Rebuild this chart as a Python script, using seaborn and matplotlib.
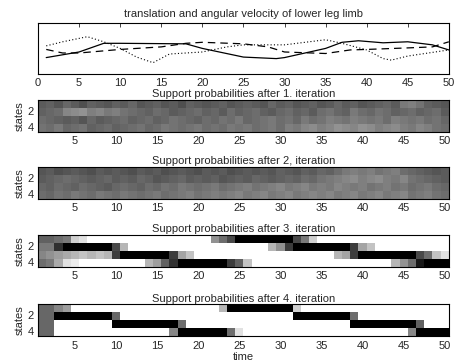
"""Segmentación de la marcha: señal del segmento inferior + probabilidades de soporte.

Panel superior: traslación y velocidad angular de la pierna (tres curvas).
Debajo: mapa de probabilidades de cada estado (4) a lo largo del tiempo
tras las iteraciones 1 a 4.
"""

import matplotlib.pyplot as plt
import numpy as np
import pandas as pd
import seaborn as sns

sns.set_theme(style="white", context="notebook")
plt.rcParams["font.family"] = ["Liberation Sans", "DejaVu Sans"]

# --- señal del segmento inferior (unidades arbitrarias) ---
solid_t = [1, 5, 8, 10, 18, 20, 25, 29, 30, 35, 37, 39, 42, 45, 48, 50]
solid_v = [0.32, 0.43, 0.60, 0.60, 0.59, 0.50, 0.33, 0.30, 0.32, 0.50,
           0.62, 0.65, 0.61, 0.63, 0.57, 0.47]
dashed_t = [1, 3, 5, 10, 15, 18, 20, 25, 28, 30, 35, 38, 40, 45, 48, 50]
dashed_v = [0.48, 0.41, 0.41, 0.48, 0.53, 0.60, 0.62, 0.59, 0.53, 0.43,
            0.40, 0.47, 0.48, 0.51, 0.53, 0.63]
dotted_t = [1, 3, 6, 8, 10, 12, 14, 16, 20, 23, 25, 30, 35, 37, 40, 42, 43, 45, 50]
dotted_v = [0.55, 0.63, 0.73, 0.63, 0.50, 0.33, 0.22, 0.39, 0.43, 0.53,
            0.57, 0.57, 0.67, 0.60, 0.47, 0.30, 0.27, 0.35, 0.47]

# --- probabilidades de soporte (%), filas = estados 1..4, columnas = t 1..50 ---
it1_s1 = [27, 26, 28, 25, 27, 29, 26, 27, 28, 26, 27, 25, 28, 27, 26, 28, 27, 29, 26, 27,
          28, 27, 26, 28, 27, 26, 27, 28, 25, 27, 26, 28, 27, 26, 28, 27, 25, 27, 26, 28,
          27, 26, 25, 27, 22, 21, 23, 26, 27, 28]
it1_s2 = [26, 25, 24, 20, 19, 18, 21, 20, 22, 21, 23, 24, 25, 26, 24, 25, 27, 26, 25, 24,
          26, 25, 27, 24, 26, 25, 24, 26, 27, 25, 24, 26, 25, 27, 24, 23, 25, 26, 22, 24,
          25, 23, 24, 26, 25, 24, 26, 25, 24, 27]
it1_s3 = [24, 25, 26, 27, 26, 28, 25, 27, 26, 25, 24, 26, 25, 24, 26, 25, 23, 24, 25, 26,
          24, 25, 23, 24, 22, 25, 24, 23, 22, 24, 23, 25, 22, 24, 23, 21, 22, 23, 21, 22,
          23, 22, 24, 21, 22, 23, 22, 24, 23, 25]
it1_s4 = [23, 24, 22, 25, 24, 23, 26, 25, 24, 26, 25, 24, 23, 25, 24, 22, 23, 24, 23, 22,
          24, 23, 24, 22, 23, 22, 24, 23, 22, 24, 21, 22, 20, 19, 21, 20, 18, 19, 20, 18,
          19, 21, 20, 19, 21, 22, 20, 21, 23, 24]

it2_s1 = [28, 27, 29, 28, 27, 28, 29, 27, 28, 27, 28, 29, 27, 28, 27, 29, 28, 27, 28, 29,
          27, 28, 27, 29, 28, 27, 28, 27, 28, 26, 27, 28, 26, 27, 25, 26, 24, 22, 21, 22,
          21, 23, 22, 21, 24, 25, 26, 27, 28, 27]
it2_s2 = [27, 26, 25, 24, 25, 26, 27, 26, 25, 27, 26, 27, 25, 26, 28, 27, 26, 25, 27, 26,
          27, 26, 28, 27, 26, 27, 25, 26, 27, 26, 25, 26, 24, 25, 23, 22, 21, 20, 19, 21,
          20, 19, 21, 22, 20, 23, 24, 25, 26, 27]
it2_s3 = [25, 26, 24, 25, 26, 24, 25, 26, 27, 25, 24, 25, 26, 24, 25, 23, 24, 22, 23, 24,
          23, 22, 24, 23, 22, 21, 23, 22, 21, 20, 22, 21, 20, 22, 21, 22, 20, 21, 22, 21,
          23, 22, 21, 23, 22, 24, 23, 22, 24, 25]
it2_s4 = [24, 25, 23, 24, 22, 23, 24, 22, 23, 24, 22, 23, 24, 23, 22, 24, 23, 22, 21, 23,
          22, 21, 22, 21, 20, 22, 21, 20, 22, 21, 20, 22, 21, 20, 21, 20, 22, 21, 20, 22,
          21, 20, 22, 21, 20, 23, 22, 21, 23, 24]

it3_s1 = [26, 26, 24, 22, 8, 5, 0, 0, 0, 0, 0, 0, 0, 0, 0, 0, 0, 0, 0, 0,
          0, 18, 24, 30, 90, 90, 90, 90, 90, 90, 90, 30, 22, 8, 0, 0, 0, 0, 0, 0,
          0, 0, 0, 0, 0, 0, 0, 0, 0, 0]
it3_s2 = [22, 22, 34, 90, 90, 90, 90, 90, 90, 30, 12, 0, 0, 0, 0, 0, 0, 0, 0, 0,
          0, 0, 0, 0, 0, 0, 0, 0, 12, 18, 32, 90, 90, 90, 90, 90, 90, 90, 32, 15,
          10, 0, 0, 0, 0, 0, 0, 0, 0, 0]
it3_s3 = [20, 18, 16, 14, 12, 10, 12, 10, 12, 32, 90, 90, 90, 90, 90, 90, 32, 15, 10, 0,
          0, 0, 0, 0, 0, 0, 0, 0, 0, 0, 0, 0, 0, 0, 0, 0, 12, 15, 32, 90,
          90, 90, 90, 90, 90, 90, 30, 24, 10, 5]
it3_s4 = [24, 22, 14, 5, 3, 0, 0, 0, 0, 0, 0, 0, 0, 12, 16, 26, 34, 90, 90, 90,
          90, 90, 90, 32, 26, 10, 0, 0, 0, 0, 0, 0, 0, 0, 0, 0, 0, 0, 0, 0,
          0, 0, 0, 12, 18, 24, 38, 90, 90, 90]

it4_s1 = [25, 25, 20, 16, 0, 0, 0, 0, 0, 0, 0, 0, 0, 0, 0, 0, 0, 0, 0, 0,
          0, 0, 12, 95, 95, 95, 95, 95, 95, 95, 95, 8, 0, 0, 0, 0, 0, 0, 0, 0,
          0, 0, 0, 0, 0, 0, 0, 0, 0, 0]
it4_s2 = [25, 25, 95, 95, 95, 95, 95, 95, 95, 25, 0, 0, 0, 0, 0, 0, 0, 0, 0, 0,
          0, 0, 0, 0, 0, 0, 0, 0, 0, 0, 0, 95, 95, 95, 95, 95, 95, 95, 24, 0,
          0, 0, 0, 0, 0, 0, 0, 0, 0, 0]
it4_s3 = [25, 25, 0, 0, 0, 0, 0, 0, 0, 95, 95, 95, 95, 95, 95, 95, 95, 24, 0, 0,
          0, 0, 0, 0, 0, 0, 0, 0, 0, 0, 0, 0, 0, 0, 0, 0, 0, 0, 95, 95,
          95, 95, 95, 95, 95, 95, 26, 0, 0, 0]
it4_s4 = [25, 25, 0, 0, 0, 0, 0, 0, 0, 0, 0, 0, 0, 0, 0, 0, 20, 95, 95, 95,
          95, 95, 95, 24, 5, 0, 0, 0, 0, 0, 0, 0, 0, 0, 0, 0, 0, 0, 0, 0,
          0, 0, 0, 0, 0, 20, 95, 95, 95, 95]

iterations = ["1.", "2,", "3.", "4."]
support = [
    [it1_s1, it1_s2, it1_s3, it1_s4],
    [it2_s1, it2_s2, it2_s3, it2_s4],
    [it3_s1, it3_s2, it3_s3, it3_s4],
    [it4_s1, it4_s2, it4_s3, it4_s4],
]
time_steps = list(range(1, 51))
states = [1, 2, 3, 4]

_FS = 8
_LEFT, _WIDTH = 0.083, 0.897
_HEAT_BOTTOMS = [0.637, 0.453, 0.266, 0.076]
_HEAT_H = 0.088


def _style_ticks(ax):
    ax.tick_params(direction="in", top=True, right=True, length=3, width=0.6,
                   labelsize=_FS, pad=3)
    for s in ax.spines.values():
        s.set_visible(True)
        s.set_color("black")
        s.set_linewidth(0.8)


fig = plt.figure(figsize=(4.58, 3.64), dpi=100)

# señal
ax = fig.add_axes([_LEFT, 0.797, _WIDTH, 0.140])
ax.plot(solid_t, solid_v, color="black", lw=0.9, linestyle="-")
ax.plot(dashed_t, dashed_v, color="black", lw=0.9, linestyle=(0, (6, 4)))
ax.plot(dotted_t, dotted_v, color="black", lw=0.8, linestyle=(0, (1, 2)))
ax.set_xlim(0, 50)
ax.set_ylim(0, 1)
ax.set_xticks(np.arange(0, 51, 5))
ax.set_yticks([])
ax.set_title("translation and angular velocity of lower leg limb", fontsize=_FS, pad=4)
_style_ticks(ax)

# probabilidades de soporte
for i, (label, rows) in enumerate(zip(iterations, support)):
    df = pd.DataFrame(rows, index=states, columns=time_steps)
    ax = fig.add_axes([_LEFT, _HEAT_BOTTOMS[i], _WIDTH, _HEAT_H])
    sns.heatmap(df, ax=ax, cmap="gray_r", vmin=0, vmax=42, cbar=False)
    ax.set_xticks(np.arange(5, 51, 5) - 0.5)
    ax.set_xticklabels([str(t) for t in range(5, 51, 5)], rotation=0)
    ax.set_yticks([1.5, 3.5])
    ax.set_yticklabels(["2", "4"], rotation=0)
    ax.set_ylabel("states", fontsize=_FS, labelpad=2)
    ax.set_xlabel("")
    ax.set_title(f"Support probabilities after {label} iteration", fontsize=_FS, pad=2)
    _style_ticks(ax)

ax.set_xlabel("time", fontsize=_FS, labelpad=1)

fig.savefig("out.png", dpi=100)
plt.close(fig)
